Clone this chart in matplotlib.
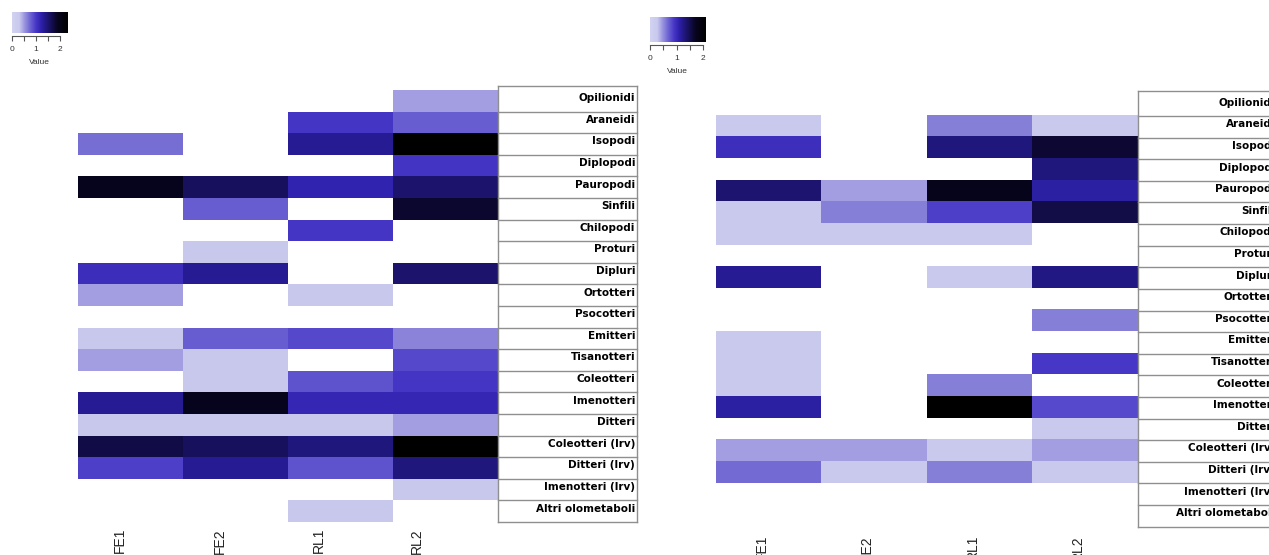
import numpy as np
import matplotlib
matplotlib.use("Agg")
import matplotlib.pyplot as plt
from matplotlib.colors import LinearSegmentedColormap

nan = np.nan

taxa = ["Opilionidi", "Araneidi", "Isopodi", "Diplopodi", "Pauropodi", "Sinfili",
        "Chilopodi", "Proturi", "Dipluri", "Ortotteri", "Psocotteri", "Emitteri",
        "Tisanotteri", "Coleotteri", "Imenotteri", "Ditteri", "Coleotteri (lrv)",
        "Ditteri (lrv)", "Imenotteri (lrv)", "Altri olometaboli"]
sites = ["FE1", "FE2", "RL1", "RL2"]

# log abundance per taxon (rows) and site (columns); nan = absent
left_vals = [
    [nan, nan, nan, 0.48],
    [nan, nan, 1.00, 0.78],
    [0.70, nan, 1.32, 2.30],
    [nan, nan, nan, 1.02],
    [1.92, 1.58, 1.18, 1.50],
    [nan, 0.78, nan, 1.82],
    [nan, nan, 1.00, nan],
    [nan, 0.30, nan, nan],
    [1.08, 1.32, nan, 1.50],
    [0.48, nan, 0.30, nan],
    [nan, nan, nan, nan],
    [0.30, 0.78, 0.90, 0.60],
    [0.48, 0.30, nan, 0.90],
    [nan, 0.30, 0.85, 1.00],
    [1.32, 1.92, 1.15, 1.15],
    [0.30, 0.30, 0.30, 0.48],
    [1.70, 1.58, 1.42, 2.30],
    [0.95, 1.32, 0.85, 1.42],
    [nan, nan, nan, 0.30],
    [nan, nan, 0.30, nan],
]
right_vals = [
    [nan, nan, nan, nan],
    [0.27, nan, 0.56, 0.27],
    [0.97, nan, 1.28, 1.62],
    [nan, nan, nan, 1.28],
    [1.35, 0.43, 1.76, 1.13],
    [0.27, 0.56, 0.86, 1.53],
    [0.27, 0.27, 0.27, nan],
    [nan, nan, nan, nan],
    [1.19, nan, 0.27, 1.26],
    [nan, nan, nan, nan],
    [nan, nan, nan, 0.56],
    [0.27, nan, nan, nan],
    [0.27, nan, nan, 0.90],
    [0.27, nan, 0.56, nan],
    [1.13, nan, 2.08, 0.81],
    [nan, nan, nan, 0.27],
    [0.43, 0.43, 0.27, 0.43],
    [0.65, 0.27, 0.56, 0.27],
    [nan, nan, nan, nan],
    [nan, nan, nan, nan],
]
left_max = 2.32
right_max = 2.1

cmap = LinearSegmentedColormap.from_list("lavblack", list(zip(
    [0.0, 0.129, 0.216, 0.323, 0.431, 0.517, 0.603, 0.690, 0.819, 1.0],
    ["#d2d2f2", "#c9c9ee", "#9d98df", "#6e64d2", "#4636c6", "#2f22ad",
     "#221882", "#17105a", "#07051e", "#000000"])))

W, H = 1269, 555
fig = plt.figure(figsize=(W / 100, H / 100), dpi=100)


def px(x0, y0, x1, y1):
    return [x0 / W, 1 - y1 / H, (x1 - x0) / W, (y1 - y0) / H]


def panel(heat_px, lab_px, key_px, values, vmax, tick_pos, pad):
    ax = fig.add_axes(px(*heat_px))
    ax.imshow(np.ma.masked_invalid(np.array(values, dtype=float)), cmap=cmap,
              vmin=0, vmax=vmax, extent=[0, 4, 20, 0], aspect="auto",
              interpolation="nearest")
    ax.set_xlim(0, 4)
    ax.set_ylim(20, 0)
    ax.set_yticks([])
    ax.set_xticks(tick_pos)
    ax.set_xticklabels(sites, rotation=90, fontsize=10, family="Liberation Sans",
                       color="#222222")
    ax.tick_params(axis="x", length=0, pad=pad)
    for s in ax.spines.values():
        s.set_visible(False)

    # taxon name table
    lab = fig.add_axes(px(*lab_px))
    lab.set_xlim(0, 1)
    lab.set_ylim(20, 0)
    lab.axis("off")
    top = -0.17
    lc = "#8f8f8f"
    lab.plot([0, 0], [top, 20], color=lc, lw=1, clip_on=False)
    lab.plot([1, 1], [top, 20], color=lc, lw=1, clip_on=False)
    for b in [top] + list(range(1, 21)):
        lab.plot([0, 1], [b, b], color=lc, lw=1, clip_on=False)
    for i, t in enumerate(taxa):
        lab.text(0.99, i + 0.38, t, ha="right", va="center", fontsize=7.5,
                 fontweight="bold", color="black", family="DejaVu Sans")

    # colour key
    k = fig.add_axes(px(*key_px))
    grad = np.linspace(0, vmax, 300)[None, :]
    k.imshow(grad, extent=[0, vmax, 0, 1], aspect="auto", cmap=cmap,
             vmin=0, vmax=vmax)
    k.set_xlim(0, vmax)
    k.set_yticks([])
    k.set_xticks([0, 0.5, 1, 1.5, 2])
    k.set_xticklabels(["0", "", "1", "", "2"])
    k.tick_params(axis="x", length=3.6, width=0.8, color="#555555",
                  labelsize=6, labelcolor="#333333", pad=3.5)
    for name, s in k.spines.items():
        s.set_visible(name == "bottom")
    k.spines["bottom"].set_position(("outward", 2.5))
    k.spines["bottom"].set_bounds(0, 2)
    k.spines["bottom"].set_color("#555555")
    k.spines["bottom"].set_linewidth(0.8)
    k.set_xlabel("Value", fontsize=6, color="#333333", labelpad=4,
                 family="Liberation Sans")
    for t in k.get_xticklabels():
        t.set_family("Liberation Sans")


panel((78, 90, 498, 522), (498, 90, 636.5, 522), (11.7, 12, 67.7, 33),
      left_vals, left_max, [0.40, 1.35, 2.29, 3.23], 4.3)
panel((715.7, 94.5, 1137, 526.5), (1138, 94.5, 1276.5, 526.5),
      (650, 17.3, 705.7, 41.7), right_vals, right_max,
      [0.44, 1.44, 2.44, 3.44], 6.1)

fig.savefig("out.png", dpi=100)
